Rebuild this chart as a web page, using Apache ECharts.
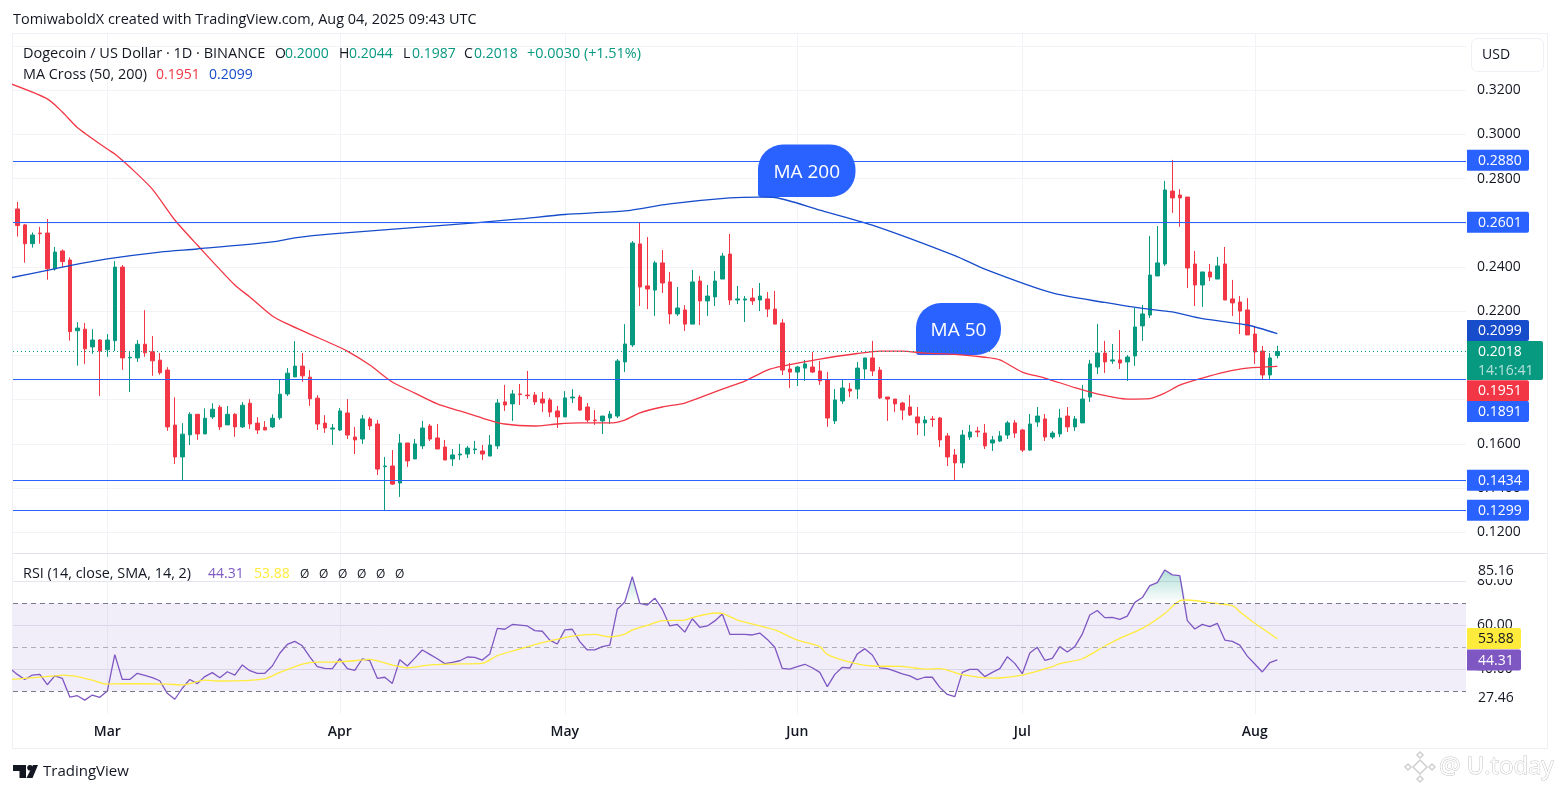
<!DOCTYPE html>
<html lang="en">
<head>
  <meta http-equiv="Content-Type" content="text/html; charset=UTF-8">
  <title>DOGE / USD daily</title>
  <style>
    html, body { margin: 0; padding: 0; background: #fff; }
    #myChart { width: 1561px; height: 793px; }
  </style>
</head>
<body>
  <div id="myChart"></div>
  <script src="https://cdn.jsdelivr.net/npm/echarts@6/dist/echarts.min.js"></script>
  <script>
    // day index 0 is Feb 17
    const opens = [
      .2663,.2591,.2506,.2554,.2554,.2392,.2473,.2432,.2112,.2119,
      .2039,.2070,.2026,.2067,.2400,.1989,.1989,.2051,.2017,.1979,
      .1934,.1685,.1541,.1641,.1734,.1645,.1722,.1766,.1686,.1734,
      .1677,.1784,.1694,.1675,.1677,.1718,.1826,.1903,.1952,.1902,
      .1807,.1694,.1667,.1663,.1740,.1631,.1622,.1713,.1690,.1497,
      .1500,.1423,.1604,.1532,.1591,.1681,.1627,.1586,.1532,.1550,
      .1554,.1574,.1568,.1545,.1591,.1790,.1781,.1826,.1821,.1821,
      .1803,.1799,.1749,.1722,.1808,.1812,.1767,.1708,.1704,.1717,
      .1726,.1971,.2048,.2505,.2315,.2296,.2419,.2333,.2188,.2206,
      .2142,.2337,.2247,.2265,.2346,.2459,.2251,.2251,.2260,.2251,
      .2256,.2210,.2147,.1939,.1925,.1943,.1948,.1930,.1889,.1704,
      .1794,.1848,.1848,.1939,.1989,.1934,.1812,.1803,.1785,.1767,
      .1722,.1695,.1713,.1717,.1636,.1550,.1514,.1631,.1658,.1649,
      .1604,.1613,.1640,.1695,.1663,.1572,.1699,.1713,.1631,.1645,
      .1726,.1677,.1695,.1812,.1948,.2011,.1975,.1980,.1971,.1998,
      .2134,.2183,.2360,.2414,.2744,.2726,.2717,.2414,.2319,.2378,
      .2346,.2414,.2256,.2242,.2206,.2097,.2020,.1912,.2000
    ];
    const closes = [
      .2588,.2506,.2545,.2551,.2392,.2468,.2425,.2108,.2124,.2030,
      .2070,.2020,.2070,.2400,.1989,.1992,.2051,.2012,.1976,.1922,
      .1677,.1541,.1644,.1734,.1645,.1716,.1757,.1677,.1734,.1677,
      .1775,.1690,.1663,.1663,.1716,.1825,.1920,.1952,.1908,.1804,
      .1690,.1672,.1672,.1749,.1640,.1618,.1713,.1681,.1486,.1500,
      .1418,.1604,.1523,.1600,.1672,.1622,.1577,.1527,.1550,.1554,
      .1581,.1577,.1554,.1595,.1785,.1776,.1826,.1823,.1818,.1790,
      .1785,.1744,.1722,.1808,.1812,.1753,.1708,.1705,.1726,.1735,
      .1975,.2052,.2509,.2310,.2301,.2419,.2328,.2188,.2215,.2142,
      .2333,.2247,.2269,.2337,.2450,.2251,.2256,.2256,.2247,.2269,
      .2210,.2142,.1934,.1925,.1948,.1962,.1925,.1885,.1717,.1799,
      .1853,.1839,.1943,.1989,.1930,.1808,.1803,.1781,.1753,.1731,
      .1695,.1708,.1710,.1618,.1541,.1514,.1640,.1654,.1654,.1591,
      .1618,.1636,.1695,.1649,.1572,.1690,.1726,.1631,.1649,.1717,
      .1677,.1713,.1803,.1962,.2011,.1971,.1980,.1966,.1993,.2129,
      .2188,.2364,.2419,.2749,.2713,.2713,.2396,.2319,.2378,.2355,
      .2405,.2251,.2238,.2201,.2093,.2016,.1912,.1989,.2018
    ];
    const highs = [
      .2695,.2595,.2557,.2582,.2618,.2491,.2480,.2444,.2151,.2147,
      .2119,.2074,.2097,.2427,.2409,.2020,.2070,.2205,.2088,.2011,
      .1947,.1811,.1694,.1743,.1734,.1761,.1784,.1775,.1771,.1739,
      .1789,.1802,.1721,.1703,.1734,.1891,.1943,.2065,.2011,.1934,
      .1820,.1730,.1690,.1762,.1803,.1677,.1731,.1722,.1708,.1541,
      .1572,.1645,.1604,.1622,.1704,.1690,.1690,.1618,.1577,.1600,
      .1591,.1613,.1595,.1640,.1803,.1867,.1844,.1871,.1930,.1835,
      .1835,.1808,.1772,.1839,.1848,.1821,.1785,.1753,.1726,.1749,
      .1984,.2142,.2518,.2604,.2536,.2428,.2477,.2378,.2310,.2228,
      .2387,.2360,.2319,.2382,.2464,.2550,.2315,.2269,.2305,.2328,
      .2287,.2292,.2165,.1966,.1953,.1980,.2016,.1975,.1925,.1848,
      .1894,.1876,.1971,.1989,.2066,.1948,.1812,.1803,.1790,.1821,
      .1767,.1726,.1726,.1722,.1649,.1577,.1663,.1686,.1677,.1690,
      .1636,.1658,.1704,.1708,.1668,.1735,.1767,.1735,.1658,.1758,
      .1767,.1726,.1867,.1980,.2143,.2066,.2052,.2115,.2002,.2215,
      .2229,.2541,.2586,.2790,.2885,.2753,.2717,.2473,.2378,.2414,
      .2446,.2491,.2342,.2269,.2260,.2134,.2043,.2011,.2044
    ];
    const lows = [
      .2538,.2420,.2488,.2506,.2343,.2384,.2399,.2067,.1954,.1962,
      .2008,.1817,.1994,.2020,.1935,.1835,.1971,.1994,.1908,.1913,
      .1659,.1509,.1434,.1595,.1618,.1645,.1713,.1663,.1686,.1632,
      .1672,.1668,.1645,.1663,.1672,.1709,.1817,.1903,.1881,.1772,
      .1663,.1650,.1595,.1658,.1622,.1554,.1600,.1663,.1459,.1301,
      .1414,.1360,.1496,.1532,.1577,.1613,.1577,.1527,.1500,.1527,
      .1536,.1554,.1527,.1545,.1577,.1749,.1704,.1776,.1803,.1776,
      .1744,.1722,.1672,.1722,.1785,.1749,.1699,.1686,.1645,.1690,
      .1717,.1925,.2039,.2224,.2210,.2179,.2283,.2142,.2179,.2111,
      .2142,.2138,.2179,.2224,.2346,.2229,.2233,.2152,.2229,.2201,
      .2174,.2142,.1912,.1853,.1862,.1885,.1921,.1867,.1677,.1690,
      .1781,.1812,.1803,.1894,.1907,.1803,.1704,.1744,.1708,.1726,
      .1640,.1636,.1677,.1586,.1500,.1437,.1491,.1618,.1631,.1577,
      .1568,.1609,.1622,.1627,.1563,.1568,.1677,.1613,.1622,.1631,
      .1654,.1658,.1695,.1790,.1916,.1921,.1962,.1939,.1885,.1953,
      .2066,.2170,.2360,.2405,.2645,.2582,.2305,.2224,.2220,.2337,
      .2346,.2251,.2179,.2097,.2093,.1962,.1889,.1889,.1987
    ];

    // moving averages, read at the bends of each curve
    const ma50Days = [-1,4,6,8,12,13,15,18,21,24,29,31,34,36,39,42,44,47,50,53,56,59,62,65,69,72,75,79,81,83,86,89,94,97,100,102,107,112,115,118,121,125,129,131,134,137,141,144,148,151,153,155,158,161,164,168];
    const ma50Values = [.3231,.3161,.3102,.3032,.2934,.2912,.2853,.2753,.2613,.2500,.2319,.2265,.2179,.2143,.2097,.2052,.2020,.1957,.1880,.1830,.1781,.1749,.1717,.1690,.1681,.1690,.1695,.1695,.1708,.1740,.1767,.1785,.1848,.1884,.1934,.1952,.1984,.2009,.2020,.2020,.2011,.2005,.1992,.1980,.1925,.1898,.1855,.1826,.1803,.1805,.1830,.1866,.1898,.1925,.1943,.1951];
    const ma200Days = [-1,4,7,12,19,24,34,37,42,61,67,73,81,87,95,99,101,107,114,125,129,138,145,150,154,158,164,168];
    const ma200Values = [.2351,.2385,.2407,.2437,.2468,.2482,.2514,.2532,.2550,.2600,.2618,.2638,.2654,.2686,.2713,.2717,.2715,.2658,.2590,.2452,.2391,.2283,.2240,.2213,.2197,.2167,.2138,.2099];

    // first value belongs to day -1, just left of the pane
    const rsiValues = [
      40.4,37.7,35.4,37.4,37.7,33.0,37.0,35.9,27.4,28.0,26.0,
      28.3,27.3,30.1,46.7,35.4,35.4,38.2,37.3,36.2,34.8,
      29.1,26.4,31.4,35.4,33.5,36.7,38.5,36.2,38.9,37.4,
      42.0,39.4,38.2,38.2,41.5,47.3,51.3,52.7,50.7,45.7,
      41.2,40.4,40.3,44.8,40.3,39.5,44.8,43.9,35.9,36.4,
      33.6,44.4,41.5,45.1,48.8,46.8,44.8,42.6,43.2,43.9,
      45.6,45.4,44.2,47.0,58.6,58.2,60.4,60.1,59.7,57.6,
      57.3,53.3,51.5,57.9,58.2,52.6,48.8,48.8,50.3,51.0,
      67.3,70.6,82.1,70.0,69.2,72.3,67.3,59.7,60.4,56.9,
      63.0,59.1,59.7,62.0,65.1,55.9,55.9,55.9,55.6,56.5,
      53.6,50.0,40.4,40.1,41.2,42.3,40.7,38.6,32.1,37.7,
      40.9,40.6,47.0,49.4,46.5,40.7,40.3,39.2,37.9,37.0,
      35.3,36.4,36.4,31.8,28.6,27.6,38.6,40.0,40.0,36.7,
      38.6,40.3,45.7,42.7,38.0,47.4,50.0,44.1,45.0,50.3,
      47.9,50.3,56.0,64.7,66.7,63.5,63.6,62.7,64.2,70.4,
      72.6,78.0,79.4,85.16,82.9,82.6,62.1,58.3,60.4,59.4,
      60.9,53.3,52.7,51.0,46.0,42.4,38.8,43.0,44.31
    ];
    const rsiSmaDays = [-1,5,6,8,10,12,14,20,22,25,27,33,35,38,40,42,45,47,50,52,55,58,62,64,67,70,74,77,79,81,82,84,86,89,90,93,94,96,101,104,107,108,111,114,118,121,123,126,130,134,138,139,142,145,147,150,153,155,156,159,162,163,165,168];
    const rsiSmaValues = [35.4,37.0,37.4,36.7,35.1,33.3,33.5,33.3,32.9,35.1,34.7,35.7,38.6,42.4,43.3,43.3,43.9,44.5,41.9,40.7,42.0,42.4,42.7,46.2,49.2,52.1,55.1,55.9,54.8,56.0,57.9,60.0,62.1,62.4,63.5,65.6,65.4,62.4,57.9,53.3,50.3,46.8,43.3,41.5,41.3,40.1,40.3,37.6,36.0,37.4,41.2,42.6,44.8,50.6,54.1,58.6,65.4,71.2,71.5,70.3,68.9,66.2,60.9,53.88];

    // axis ticks
    const monthDays = [12, 43, 73, 104, 134, 165];
    const monthLabels = ['Mar', 'Apr', 'May', 'Jun', 'Jul', 'Aug'];
    const priceGrid = [.34, .32, .30, .28, .26, .24, .22, .20, .18, .16, .14, .12];
    const priceLabels = [.32, .30, .28, .24, .22, .16, .14, .12];
    const rsiTicks = [80, 60, 40];
    const levels = [.2880, .2601, .1891, .1434, .1299];
    const lastClose = .2018;

    const GREEN = '#089981';
    const RED = '#f23645';
    const BLUE = '#2962ff';
    const DARK_BLUE = '#174ccb';
    const PURPLE = '#7e57c2';
    const YELLOW = '#ffeb3b';
    const INK = '#131722';
    const FONT = '"Open Sans", sans-serif';

    const candles = opens.map((o, i) => [i, o, closes[i], lows[i], highs[i]]);
    const zip = (days, values) => days.map((d, i) => [d, values[i]]);
    const rsiData = rsiValues.map((v, i) => [i - 1, v]);
    // only the parts above 70 get the green fill
    const overbought = rsiValues.map((v, i) => {
      if (v > 70) return [i - 1, v];
      if (rsiValues[i - 1] > 70 || rsiValues[i + 1] > 70) return [i - 1, 70];
      return [i - 1, null];
    });

    function text(x, y, str, fill, size = 14, z = 30, align = 'left') {
      return {
        type: 'text', x, y: y + 0.7, z, silent: true,
        style: { text: str, fill, font: `${size}px ${FONT}`, verticalAlign: 'middle', align }
      };
    }
    function box(x, y, width, height, fill, z = 29, r = 0, stroke) {
      return {
        type: 'rect', z, silent: true,
        shape: { x, y, width, height, r },
        style: { fill, stroke: stroke || null, lineWidth: stroke ? 1 : 0 }
      };
    }
    // price tag in the axis column
    function badge(y, str, fill, color = '#fff', width = 62) {
      return [box(1467, y - 10.5, width, 21, fill, 29, [0, 2, 2, 0]), text(1478, y, str, color)];
    }
    function pill(x, y, width, height, str) {
      return [
        box(x, y, width, height, BLUE, 1, [25, 25, 25, 3]),
        text(x + width / 2, y + height / 2 + 0.8, str, '#fff', 19, 1, 'center')
      ];
    }

    const graphics = [
      // frame and pane separator
      box(12.5, 33.5, 1535, 715, 'transparent', 0, 0, '#eef0f5'),
      box(13, 553, 1534, 1, '#e0e3eb', 0),
      // header
      text(13, 19.5, 'TomiwaboldX created with TradingView.com, Aug 04, 2025 09:43 UTC', INK, 14.45),
      text(23, 53.5, 'Dogecoin / US Dollar · 1D · BINANCE', INK, 14.5),
      text(275, 53.5, 'O', INK), text(285, 53.5, '0.2000', GREEN),
      text(339, 53.5, 'H', INK), text(349, 53.5, '0.2044', GREEN),
      text(403, 53.5, 'L', INK), text(412, 53.5, '0.1987', GREEN),
      text(464, 53.5, 'C', INK), text(474, 53.5, '0.2018', GREEN),
      text(527, 53.5, '+0.0030 (+1.51%)', GREEN, 14.4),
      text(23, 74.5, 'MA Cross (50, 200)', INK, 14.4),
      text(156, 74.5, '0.1951', RED), text(209, 74.5, '0.2099', DARK_BLUE),
      text(23, 573.5, 'RSI (14, close, SMA, 14, 2)', INK, 14.4),
      text(208, 573.5, '44.31', PURPLE), text(254, 573.5, '53.88', YELLOW),
      ...[300, 319, 338, 357, 376, 395].map(x => text(x, 573.5, 'Ø', INK, 12)),
      // annotations on the chart
      ...pill(758, 144.5, 97.5, 52.5, 'MA 200'),
      ...pill(916, 303, 85, 52, 'MA 50'),
      // currency button
      box(1471.5, 38.5, 72, 33, '#fff', 5, 6, '#eef0f5'),
      text(1482, 54.5, 'USD', INK, 14, 6),
      // tags
      ...badge(160.3, '0.2880', BLUE),
      ...badge(222.3, '0.2601', BLUE),
      ...badge(330.5, '0.2099', DARK_BLUE),
      box(1467, 341, 76, 39, GREEN, 29, [0, 2, 2, 0]),
      text(1478, 351.5, '0.2018', '#fff'),
      text(1478, 370.5, '14:16:41', 'rgba(255,255,255,0.7)'),
      ...badge(390.7, '0.1951', RED),
      ...badge(411.5, '0.1891', BLUE),
      ...badge(480.3, '0.1434', BLUE),
      ...badge(510.3, '0.1299', BLUE),
      box(1470, 562, 60, 17, '#fff', 28),
      text(1478, 570.5, '85.16', INK),
      text(1478, 697.5, '27.46', INK),
      ...badge(638.5, '53.88', YELLOW, INK, 54),
      ...badge(660, '44.31', PURPLE, '#fff', 54),
      // TradingView mark
      { type: 'polygon', z: 30, silent: true, shape: { points: [[13, 765], [26, 765], [26, 778], [19.5, 778], [19.5, 771], [13, 771]] }, style: { fill: INK } },
      { type: 'circle', z: 30, silent: true, shape: { cx: 30, cy: 767.8, r: 2.8 }, style: { fill: INK } },
      { type: 'polygon', z: 30, silent: true, shape: { points: [[33, 765], [38, 765], [32.5, 778], [26.5, 778]] }, style: { fill: INK } },
      text(43, 771.5, 'TradingView', INK, 15),
      // U.today watermark
      ...[[1420, 767, 7], [1420, 755, 3], [1420, 779, 3], [1408, 767, 3], [1432, 767, 3]].map(([cx, cy, r]) => ({
        type: 'polygon', z: 30, silent: true,
        shape: { points: [[cx, cy - r], [cx + r, cy], [cx, cy + r], [cx - r, cy]] },
        style: { fill: '#fff', stroke: '#cfcfcf', lineWidth: 1.5 }
      })),
      {
        type: 'text', x: 1439, y: 767, z: 30, silent: true,
        style: { text: '@ U.today', fill: '#fff', stroke: '#c4c4c4', lineWidth: 1, font: `24px ${FONT}`, verticalAlign: 'middle' }
      }
    ];

    const axisCommon = {
      type: 'value',
      min: -0.5733,
      max: 193.16,
      axisLine: { show: false },
      axisTick: { show: false, customValues: monthDays },
      splitLine: { show: true, lineStyle: { color: '#f2f3f6', width: 1 } }
    };

    const option = {
      animation: false,
      backgroundColor: '#fff',
      textStyle: { fontFamily: FONT },
      graphic: graphics,
      grid: [
        { left: 13, top: 34, width: 1453, height: 519 },
        { left: 13, top: 554, width: 1453, height: 160 }
      ],
      xAxis: [
        { ...axisCommon, gridIndex: 0, axisLabel: { show: false } },
        {
          ...axisCommon,
          gridIndex: 1,
          axisLabel: {
            show: true,
            customValues: monthDays,
            formatter: v => monthLabels[monthDays.indexOf(v)],
            color: INK,
            fontSize: 14,
            fontWeight: 600,
            margin: 11
          }
        }
      ],
      yAxis: [
        {
          type: 'value',
          gridIndex: 0,
          position: 'right',
          min: .11063,
          max: .34548,
          axisLine: { show: false },
          axisTick: { show: false, customValues: priceGrid },
          axisLabel: { customValues: priceLabels, formatter: v => v.toFixed(4), color: INK, fontSize: 14, margin: 11 },
          splitLine: { show: true, lineStyle: { color: '#f2f3f6', width: 1 } }
        },
        {
          type: 'value',
          gridIndex: 1,
          position: 'right',
          min: 19.7,
          max: 92.4,
          axisLine: { show: false },
          axisTick: { show: false, customValues: rsiTicks },
          axisLabel: { customValues: rsiTicks, formatter: v => v.toFixed(2), color: INK, fontSize: 14, margin: 11 },
          splitLine: { show: true, lineStyle: { color: '#e6e4ee', width: 1 } }
        }
      ],
      series: [
        {
          name: 'DOGEUSD',
          type: 'candlestick',
          xAxisIndex: 0,
          yAxisIndex: 0,
          barWidth: 4,
          data: candles,
          encode: { x: 0, y: [1, 2, 3, 4] },
          itemStyle: { color: GREEN, color0: RED, borderColor: GREEN, borderColor0: RED, borderWidth: 1 },
          markLine: {
            silent: true,
            symbol: 'none',
            precision: 4,
            label: { show: false },
            data: [
              ...levels.map(v => ({ yAxis: v, lineStyle: { color: BLUE, width: 1.2, type: 'solid' } })),
              { yAxis: lastClose, lineStyle: { color: GREEN, width: 1, type: [1, 3] } }
            ]
          }
        },
        {
          name: 'MA 50',
          type: 'line',
          xAxisIndex: 0,
          yAxisIndex: 0,
          showSymbol: false,
          smooth: 0.25,
          data: zip(ma50Days, ma50Values),
          lineStyle: { color: RED, width: 1.3 }
        },
        {
          name: 'MA 200',
          type: 'line',
          xAxisIndex: 0,
          yAxisIndex: 0,
          showSymbol: false,
          smooth: 0.25,
          data: zip(ma200Days, ma200Values),
          lineStyle: { color: DARK_BLUE, width: 1.3 }
        },
        {
          name: 'Overbought',
          type: 'line',
          xAxisIndex: 1,
          yAxisIndex: 1,
          showSymbol: false,
          data: overbought,
          lineStyle: { width: 0 },
          areaStyle: {
            origin: 70,
            color: {
              type: 'linear', x: 0, y: 0, x2: 0, y2: 1,
              colorStops: [
                { offset: 0, color: 'rgba(8,153,129,0.45)' },
                { offset: 1, color: 'rgba(8,153,129,0)' }
              ]
            }
          }
        },
        {
          name: 'RSI',
          type: 'line',
          xAxisIndex: 1,
          yAxisIndex: 1,
          showSymbol: false,
          data: rsiData,
          lineStyle: { color: PURPLE, width: 1.3 },
          markArea: {
            silent: true,
            itemStyle: { color: 'rgba(126,87,194,0.1)' },
            data: [[{ yAxis: 30 }, { yAxis: 70 }]]
          },
          markLine: {
            silent: true,
            symbol: 'none',
            label: { show: false },
            data: [
              { yAxis: 70, lineStyle: { color: '#787b86', width: 1, type: [5, 4] } },
              { yAxis: 50, lineStyle: { color: 'rgba(120,123,134,0.55)', width: 1, type: [5, 4] } },
              { yAxis: 30, lineStyle: { color: '#787b86', width: 1, type: [5, 4] } }
            ]
          }
        },
        {
          name: 'RSI SMA',
          type: 'line',
          xAxisIndex: 1,
          yAxisIndex: 1,
          showSymbol: false,
          smooth: 0.25,
          data: zip(rsiSmaDays, rsiSmaValues),
          lineStyle: { color: YELLOW, width: 1.3 }
        }
      ]
    };

    const myChart = echarts.init(document.getElementById('myChart'));
    myChart.setOption(option);
  </script>
</body>
</html>
